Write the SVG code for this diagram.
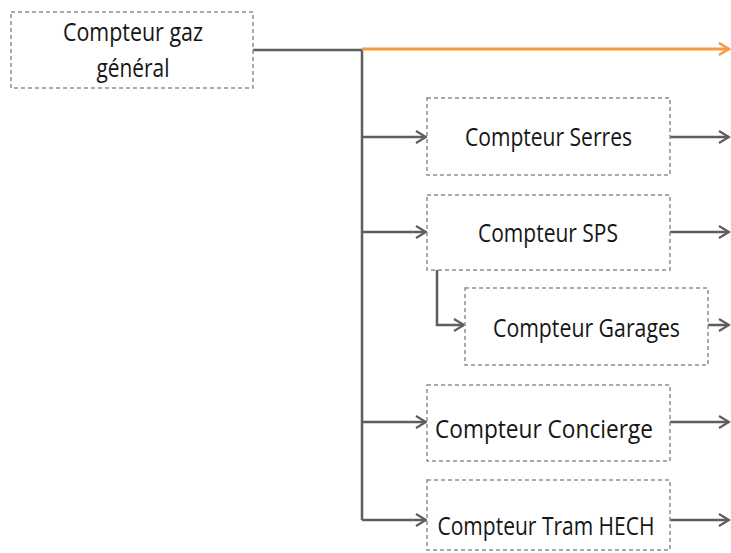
<svg xmlns="http://www.w3.org/2000/svg" width="731" height="553" viewBox="0 0 731 553">
<style>
.box{fill:#fff;stroke:#8e8e8e;stroke-width:1.5;stroke-dasharray:4 3}
.lbl{font-family:"Open Sans","Liberation Sans",sans-serif;font-size:26px;fill:#161616;text-anchor:middle}
.c{fill:none;stroke:#5e5e5e;stroke-width:2.5}
.o{fill:none;stroke:#F59A3E;stroke-width:3}
</style>
<defs>
<marker id="ag" markerUnits="userSpaceOnUse" markerWidth="14" markerHeight="16" refX="12" refY="7" orient="auto" viewBox="0 0 14 16">
<path d="M2,1 L12,7 L2,13" fill="none" stroke="#5e5e5e" stroke-width="2.2"/>
</marker>
<marker id="ao" markerUnits="userSpaceOnUse" markerWidth="14" markerHeight="16" refX="12" refY="7" orient="auto" viewBox="0 0 14 16">
<path d="M2,1 L12,7 L2,13" fill="none" stroke="#F59A3E" stroke-width="2.6"/>
</marker>
</defs>
<g id="connectors">
<path class="c" d="M253,50 H362 V520"/>
<path class="o" d="M362,49 H729" marker-end="url(#ao)"/>
<path class="c" d="M362,137 H426" marker-end="url(#ag)"/>
<path class="c" d="M362,232 H426" marker-end="url(#ag)"/>
<path class="c" d="M437,270 V325 H464" marker-end="url(#ag)"/>
<path class="c" d="M362,422 H426" marker-end="url(#ag)"/>
<path class="c" d="M362,520 H426" marker-end="url(#ag)"/>
<path class="c" d="M670,137 H729" marker-end="url(#ag)"/>
<path class="c" d="M670,232 H729" marker-end="url(#ag)"/>
<path class="c" d="M708,325 H729" marker-end="url(#ag)"/>
<path class="c" d="M670,422 H729" marker-end="url(#ag)"/>
<path class="c" d="M670,520 H729" marker-end="url(#ag)"/>
</g>
<g id="n-general">
<rect class="box" x="11" y="12" width="242" height="76"/>
<text class="lbl" x="133" y="41" textLength="140" lengthAdjust="spacingAndGlyphs">Compteur gaz</text>
<text class="lbl" x="133" y="77" textLength="73" lengthAdjust="spacingAndGlyphs">général</text>
</g>
<g id="n-serres">
<rect class="box" x="427" y="98" width="243" height="77"/>
<text class="lbl" x="548.5" y="146" textLength="167" lengthAdjust="spacingAndGlyphs">Compteur Serres</text>
</g>
<g id="n-sps">
<rect class="box" x="427" y="195" width="243" height="75"/>
<text class="lbl" x="548" y="242" textLength="140" lengthAdjust="spacingAndGlyphs">Compteur SPS</text>
</g>
<g id="n-garages">
<rect class="box" x="465" y="288" width="243" height="77"/>
<text class="lbl" x="586.5" y="337" textLength="187" lengthAdjust="spacingAndGlyphs">Compteur Garages</text>
</g>
<g id="n-concierge">
<rect class="box" x="427" y="385" width="243" height="76"/>
<text class="lbl" x="544" y="438" textLength="218" lengthAdjust="spacingAndGlyphs">Compteur Concierge</text>
</g>
<g id="n-tram">
<rect class="box" x="427" y="480" width="243" height="70"/>
<text class="lbl" x="546" y="535" textLength="217" lengthAdjust="spacingAndGlyphs">Compteur Tram HECH</text>
</g>
</svg>
